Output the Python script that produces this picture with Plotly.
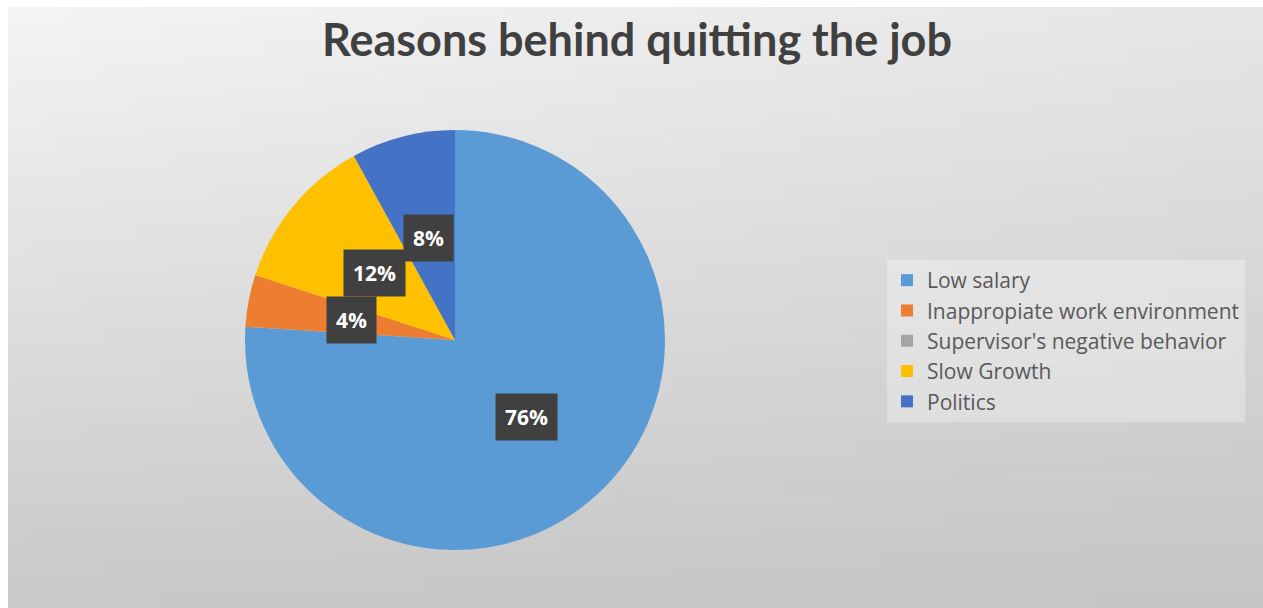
import base64
import math
import struct
import zlib

import plotly.graph_objects as go

# ---- data ----
categories = ["Low salary", "Inappropiate work environment",
              "Supervisor's negative behavior", "Slow Growth", "Politics"]
values = [76, 4, 0, 12, 8]
colors = ["#5B9BD5", "#ED7D31", "#A5A5A5", "#FFC000", "#4472C4"]
title_text = "Reasons behind quitting the job"

W, H = 1263, 608


# ---- gradient background as a tiny PNG ----
def make_png(w, h):
    rows = []
    for j in range(h):
        yn = j / (h - 1)
        row = bytearray()
        for i in range(w):
            xn = i / (w - 1)
            v = 244 - 14 * xn * (1 - yn) - 43 * yn - 4 * xn * yn
            row.append(max(0, min(255, int(round(v)))))
        rows.append(b"\x00" + bytes(row))
    raw = b"".join(rows)

    def chunk(tag, data):
        c = struct.pack(">I", len(data)) + tag + data
        return c + struct.pack(">I", zlib.crc32(tag + data) & 0xFFFFFFFF)

    png = b"\x89PNG\r\n\x1a\n"
    png += chunk(b"IHDR", struct.pack(">IIBBBBB", w, h, 8, 0, 0, 0, 0))
    png += chunk(b"IDAT", zlib.compress(raw, 9))
    png += chunk(b"IEND", b"")
    return "data:image/png;base64," + base64.b64encode(png).decode()


bg_src = make_png(96, 48)

# pie geometry (pixels)
cx, cy, R = 455, 340, 210
dom_x = [(cx - R) / W, (cx + R) / W]
dom_y = [1 - (cy + R) / H, 1 - (cy - R) / H]

fig = go.Figure()
fig.add_trace(go.Pie(
    labels=categories,
    values=values,
    sort=False,
    direction="clockwise",
    rotation=0,
    textinfo="none",
    hoverinfo="label+percent",
    marker=dict(colors=colors, line=dict(width=0)),
    domain=dict(x=dom_x, y=dom_y),
    showlegend=True,
))

# data labels placed at half radius along each slice's mid-angle
total = sum(values)
annotations = []
cum = 0
for v in values:
    if v > 0:
        mid = (cum + v / 2) / total * 2 * math.pi
        px = cx + 0.5 * R * math.sin(mid)
        py = cy - 0.5 * R * math.cos(mid)
        annotations.append(dict(
            x=px / W, y=1 - py / H, xref="paper", yref="paper",
            text=f"<b>{round(v / total * 100)}%</b>", showarrow=False,
            font=dict(family="Open Sans", size=21, color="white"),
            bgcolor="#404040", borderpad=9,
            xanchor="center", yanchor="middle",
        ))
    cum += v

fig.update_layout(
    width=W, height=H,
    margin=dict(l=0, r=0, t=0, b=0),
    paper_bgcolor="white",
    title=dict(
        text=f"<b>{title_text}</b>",
        x=637 / W, y=1 - 40 / H, xanchor="center", yanchor="middle",
        xref="paper", yref="paper",
        font=dict(family="Lato", size=45, color="#404040"),
    ),
    legend=dict(
        x=887 / W, y=1 - 341 / H, xanchor="left", yanchor="middle",
        font=dict(family="Open Sans", size=21, color="#595959"),
        bgcolor="rgba(255,255,255,0.3)",
        itemclick=False, itemdoubleclick=False,
    ),
    images=[dict(
        source=bg_src, xref="paper", yref="paper",
        x=8 / W, y=1 - 7 / H, sizex=1 - 8 / W, sizey=1 - 7 / H,
        xanchor="left", yanchor="top", sizing="stretch", layer="below",
    )],
    annotations=annotations,
)

fig.write_html("out.html")
